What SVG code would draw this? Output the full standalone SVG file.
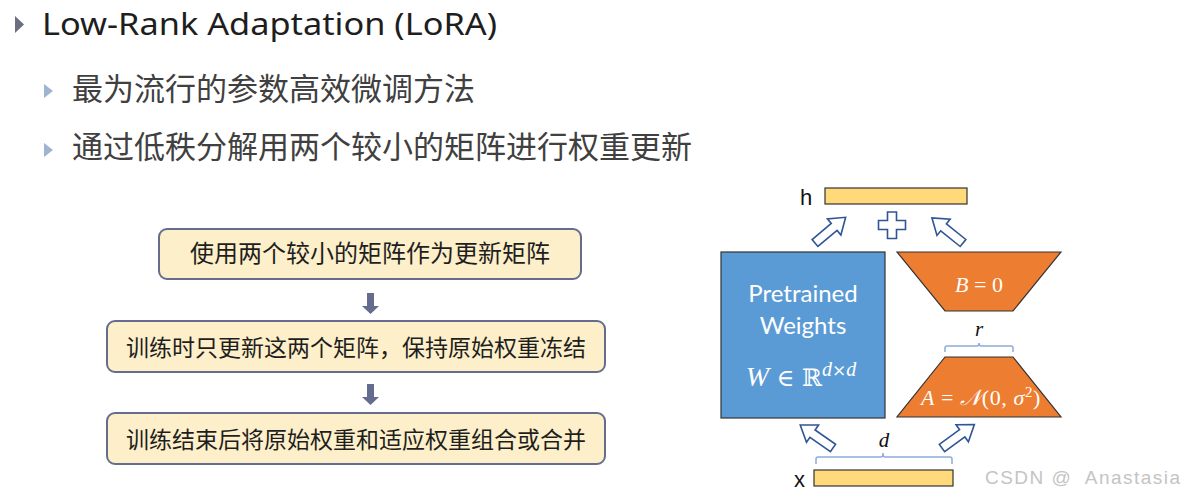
<svg xmlns="http://www.w3.org/2000/svg" width="1186" height="497" viewBox="0 0 1186 497">
<defs>
<style>
.title{font-family:"Noto Sans","Open Sans",sans-serif;font-size:31px;fill:#1e1e1e}
.sub{font-family:"Noto Sans CJK SC",sans-serif;font-size:31px;fill:#404040}
.box{fill:#fdefc9;stroke:#646d8e;stroke-width:2}
.boxt{font-family:"Noto Sans CJK SC",sans-serif;fill:#1e1e1e;text-anchor:middle}
.dn{fill:#646d8e}
.bar{fill:#ffd97a;stroke:#333;stroke-width:1.2}
.lbl{font-family:"Liberation Sans",Arial,sans-serif;font-size:22px;fill:#111}
.blk{fill:#fff;stroke:#2f5597;stroke-width:1.6;stroke-linejoin:miter}
.brace{fill:none;stroke:#8faadc;stroke-width:1.5}
.wt{font-family:"Lato","Open Sans",sans-serif;font-size:24px;fill:#fff;text-anchor:middle}
.trap{fill:#ed7d31;stroke:#333;stroke-width:1.2}
</style>
<path id="barrow" d="M0,-4.5 L25,-4.5 L25,-10.5 L40,0 L25,10.5 L25,4.5 L0,4.5 Z"/>
</defs>
<rect width="1186" height="497" fill="#fff"/>

<g id="bullets">
<polygon points="15,16 24,24.5 15,33" fill="#6b6f82"/>
<polygon points="44,84 53,91 44,98" fill="#9fb4d3"/>
<polygon points="44,143 53,150 44,157" fill="#9fb4d3"/>
</g>
<g id="heading">
<text class="title" x="42" y="35" textLength="455" lengthAdjust="spacingAndGlyphs">Low-Rank Adaptation (LoRA)</text>
<text class="sub" x="72" y="100">最为流行的参数高效微调方法</text>
<text class="sub" x="72" y="158">通过低秩分解用两个较小的矩阵进行权重更新</text>
</g>

<g id="step1">
<rect class="box" x="159" y="229" width="422" height="50" rx="8"/>
<text class="boxt" x="370" y="262" font-size="24">使用两个较小的矩阵作为更新矩阵</text>
</g>
<g id="step2">
<rect class="box" x="107" y="321" width="498" height="51" rx="8"/>
<text class="boxt" x="356" y="356" font-size="23">训练时只更新这两个矩阵，保持原始权重冻结</text>
</g>
<g id="step3">
<rect class="box" x="107" y="413" width="498" height="51" rx="8"/>
<text class="boxt" x="356" y="448" font-size="23">训练结束后将原始权重和适应权重组合或合并</text>
</g>
<g id="flow-connectors">
<path class="dn" d="M367,293 h7 v13 h5 l-8.5,8 l-8.5,-8 h5 z"/>
<path class="dn" d="M367,384 h7 v13 h5 l-8.5,8 l-8.5,-8 h5 z"/>
</g>

<g id="h-vector">
<text class="lbl" x="800" y="205">h</text>
<rect class="bar" x="825" y="188" width="142" height="16"/>
</g>
<g id="x-vector">
<text class="lbl" x="794" y="487">x</text>
<rect class="bar" x="814" y="470" width="139" height="16"/>
</g>
<g id="pretrained">
<rect x="721" y="252" width="164" height="166" fill="#5b9bd5" stroke="#333" stroke-width="1.2"/>
<text class="wt" x="803" y="302">Pretrained</text>
<text class="wt" x="803" y="334">Weights</text>
<text x="801" y="386" text-anchor="middle" fill="#fff" font-family="DejaVu Serif,Liberation Serif,serif" font-size="24"><tspan font-style="italic" font-family="Liberation Serif,serif" font-size="28">W</tspan> ∈ ℝ<tspan font-style="italic" font-family="Liberation Serif,serif" font-size="20" dy="-10">d</tspan><tspan font-size="17">×</tspan><tspan font-style="italic" font-family="Liberation Serif,serif" font-size="20">d</tspan></text>
</g>
<g id="matrix-B">
<polygon class="trap" points="897,252 1061,252 1013,311 945,311"/>
<text x="979" y="292" text-anchor="middle" fill="#fff" font-family="Liberation Serif,serif" font-size="22" xml:space="preserve"><tspan font-style="italic">B</tspan> = 0</text>
</g>
<g id="matrix-A">
<polygon class="trap" points="945,357 1013,357 1061,417 897,417"/>
<text x="981" y="405" text-anchor="middle" fill="#fff" font-family="Liberation Serif,serif" font-size="22" letter-spacing="0.6"><tspan font-style="italic">A</tspan> = <tspan font-family="DejaVu Serif,serif" font-style="italic">𝒩</tspan>(0, <tspan font-style="italic">σ</tspan><tspan font-size="15" dy="-8">2</tspan><tspan dy="8">)</tspan></text>
</g>
<g id="rank-r">
<path class="brace" d="M945,352 v-4 q0,-2 2,-2 h30 q2,0 2,-3 q0,3 2,3 h30 q2,0 2,2 v4"/>
<text x="979" y="336" text-anchor="middle" font-family="Liberation Serif,serif" font-style="italic" font-size="21" fill="#111">r</text>
</g>
<g id="dim-d">
<path class="brace" d="M816,464 v-5 q0,-2 2,-2 h63 q2,0 2,-4 q0,4 2,4 h65 q2,0 2,2 v5"/>
<text x="884" y="447" text-anchor="middle" font-family="Liberation Serif,serif" font-style="italic" font-size="21" fill="#111">d</text>
</g>
<g id="plus">
<path class="blk" d="M887.5,212 h9 v8.5 h9 v9 h-9 v9 h-9 v-9 h-9 v-9 h9 z"/>
</g>
<g id="connectors">
<use href="#barrow" class="blk" transform="translate(815,243) rotate(-40)"/>
<use href="#barrow" class="blk" transform="translate(963,243) rotate(-141)"/>
<use href="#barrow" class="blk" transform="translate(833,448) rotate(-145)"/>
<use href="#barrow" class="blk" transform="translate(942,448) rotate(-36)"/>
</g>
<g id="watermark">
<text x="985" y="484" font-family="Liberation Sans,Arial,sans-serif" font-size="19" fill="#c4c4c4" textLength="195" lengthAdjust="spacing" xml:space="preserve">CSDN @  Anastasia</text>
</g>
</svg>
